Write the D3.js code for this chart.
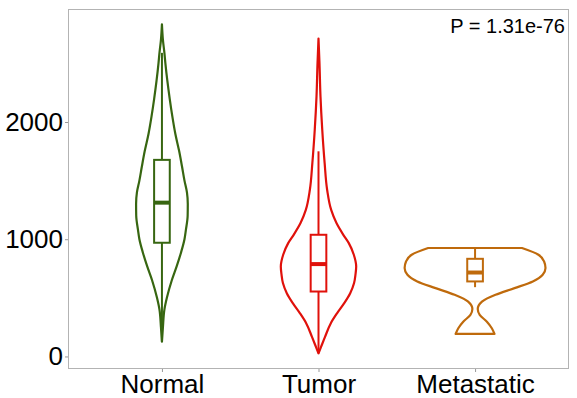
<!DOCTYPE html>
<html>
<head>
<meta charset="utf-8">
<script src="https://cdn.jsdelivr.net/npm/d3@7"></script>
<style>
  body { margin: 0; background: #fff; }
  svg { display: block; font-family: "Liberation Sans", Arial, sans-serif; }
</style>
</head>
<body>
<svg width="577" height="398"></svg>
<script>
// groups and colours
var groups = ["Normal", "Tumor", "Metastatic"];
var colors = ["#376611", "#e0110b", "#bf6a0c"];
var yTicks = [0, 1000, 2000];
var pLabel = "P = 1.31e-76";

// violin outlines: [value, relative density]
var normalViolin = [[126, 0], [250, 0.014], [400, 0.035], [500, 0.07], [650, 0.14], [770, 0.21],
  [885, 0.27], [1000, 0.32], [1080, 0.34], [1200, 0.365], [1300, 0.367], [1400, 0.355],
  [1500, 0.32], [1620, 0.285], [1750, 0.245], [1900, 0.19], [2050, 0.147], [2200, 0.11],
  [2350, 0.077], [2500, 0.049], [2590, 0.035], [2700, 0.014], [2833, 0]];
var tumorViolin = [[27, 0], [80, 0.035], [169, 0.094], [284, 0.175], [370, 0.265], [455, 0.365],
  [540, 0.45], [626, 0.505], [700, 0.525], [768, 0.535], [870, 0.5], [967, 0.43], [1040, 0.35],
  [1138, 0.255], [1250, 0.18], [1420, 0.123], [1651, 0.087], [1936, 0.053], [2221, 0.028],
  [2500, 0.014], [2711, 0]];
var metaViolin = [[192, 0.276], [241, 0.238], [297, 0.168], [355, 0.066], [405, 0.038],
  [468, 0.098], [526, 0.29], [583, 0.56], [640, 0.82], [697, 0.96], [754, 1.0], [810, 0.98],
  [868, 0.9], [925, 0.666]];
var violins = [normalViolin, tumorViolin, metaViolin];

// box stats: [lower whisker, q1, median, q3, upper whisker]
var normalBox = [126, 970, 1312, 1677, 2590];
var tumorBox = [27, 554, 788, 1038, 1750];
var metaBox = [591, 640, 716, 833, 925];
var boxes = [normalBox, tumorBox, metaBox];

var svg = d3.select("svg");
var pLeft = 68, pRight = 569, pTop = 9, pBottom = 369;

var x = d3.scalePoint().domain(groups).range([pLeft, pRight]).padding(0.6);
var y = d3.scaleLinear().domain([-107, 2964]).range([pBottom, pTop]);
var w = d3.scaleLinear().domain([0, 1]).range([0, 0.45 * x.step()]);
var boxHalf = 0.05 * x.step();

// panel border
svg.append("rect").attr("x", pLeft + 0.5).attr("y", pTop + 0.5)
  .attr("width", pRight - pLeft - 1).attr("height", pBottom - pTop - 1)
  .attr("fill", "none").attr("stroke", "#b3b3b3").attr("stroke-width", 1);

// axes
var yAxis = svg.append("g").attr("transform", "translate(" + pLeft + ",0)")
  .call(d3.axisLeft(y).tickValues(yTicks).tickFormat(d3.format("d")).tickSize(3).tickPadding(2));
var xAxis = svg.append("g").attr("transform", "translate(0," + pBottom + ")")
  .call(d3.axisBottom(x).tickSize(3).tickPadding(3));
[yAxis, xAxis].forEach(function(a) {
  a.select(".domain").remove();
  a.selectAll("line").attr("stroke", "#999");
  a.selectAll("text").attr("fill", "#000").style("font-size", "26px")
    .style("font-family", "'Liberation Sans', Arial, sans-serif");
});

groups.forEach(function(g, i) {
  var cx = x(g), col = colors[i], b = boxes[i];
  var area = d3.area().curve(d3.curveMonotoneY)
    .y(function(d) { return y(d[0]); })
    .x0(function(d) { return cx - w(d[1]); })
    .x1(function(d) { return cx + w(d[1]); });
  svg.append("path").datum(violins[i]).attr("d", area)
    .attr("fill", "none").attr("stroke", col).attr("stroke-width", 2.2)
    .attr("stroke-linejoin", "round");

  // whiskers
  svg.append("line").attr("x1", cx).attr("x2", cx).attr("y1", y(b[0])).attr("y2", y(b[1]))
    .attr("stroke", col).attr("stroke-width", 2);
  svg.append("line").attr("x1", cx).attr("x2", cx).attr("y1", y(b[3])).attr("y2", y(b[4]))
    .attr("stroke", col).attr("stroke-width", 2);
  // box
  svg.append("rect").attr("x", cx - boxHalf).attr("y", y(b[3]))
    .attr("width", 2 * boxHalf).attr("height", y(b[1]) - y(b[3]))
    .attr("fill", "#fff").attr("stroke", col).attr("stroke-width", 2);
  svg.append("line").attr("x1", cx - boxHalf).attr("x2", cx + boxHalf)
    .attr("y1", y(b[2])).attr("y2", y(b[2]))
    .attr("stroke", col).attr("stroke-width", 4);
});

svg.append("text").attr("x", 565).attr("y", 33).attr("text-anchor", "end")
  .style("font-size", "20px").attr("fill", "#000").text(pLabel);
</script>
</body>
</html>
